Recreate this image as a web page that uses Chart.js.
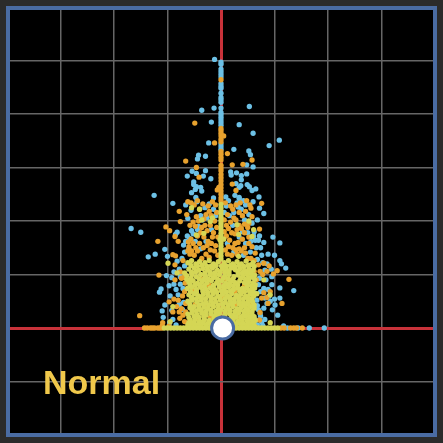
<!DOCTYPE html>
<html>
<head>
<meta charset="utf-8">
<script src="https://cdn.jsdelivr.net/npm/chart.js@4"></script>
<style>
  html, body { margin: 0; background: #2b2b2b; }
  #frame { position: absolute; left: 6px; top: 6px; width: 423px; height: 423px; border: 4px solid #4a6ca3; background: #000; overflow: hidden; }
  #chart { position: absolute; left: -3px; top: -3px; }
  #label { position: absolute; left: 33px; top: 352px; color: #f0c84b; font: bold 34px "Liberation Sans", Arial, sans-serif; line-height: 40px; }
</style>
</head>
<body>
<div id="frame"><canvas id="chart" width="428" height="428"></canvas><div id="label">Normal</div></div>
<script>
const xTicks = [-4, -3, -2, -1, 0, 1, 2, 3, 4];
const yTicks = [-2, -1, 0, 1, 2, 3, 4, 5, 6];
const centerPoint = [[.03, 0]];

// [x, y] pairs
const bluePoints = [
  [-.12,5.02],[-.36,4.07],[-.13,4.11],[.53,4.14],[-.18,3.85],[.34,3.80],[.60,3.64],[1.09,3.51],[.90,3.41],[-.23,3.46],
  [.24,3.34],[.52,3.31],[.55,3.24],[-.42,3.23],[-.44,3.16],[-.29,3.21],[.48,3.05],[.60,3.01],[-.54,2.93],[-.29,2.94],
  [-.46,2.89],[-.63,2.84],[-.33,2.84],[-.19,2.79],[.18,2.92],[.19,2.86],[.29,2.90],[.38,2.85],[.48,2.88],[.38,2.77],
  [.28,2.70],[.37,2.66],[.34,2.63],[.49,2.68],[.53,2.64],[.58,2.57],[.65,2.60],[.71,2.45],[-.51,2.73],[-.51,2.68],
  [-.46,2.64],[-.48,2.59],[-.55,2.53],[-.38,2.63],[-.36,2.56],[-.47,2.44],[-1.25,2.48],[.09,2.45],[.26,2.48],[.34,2.44],[-.14,2.43],
  [0,4.97],[0,4.93],[0,4.84],[0,4.79],[0,4.74],[0,4.69],[0,4.57],[0,4.52],[0,4.48],[0,4.39],[0,4.31],[0,4.27],[0,4.22],
  [0,4.11],[0,4.03],[0,3.99],[0,3.94],[0,3.89],[0,3.84],[0,3.79],[0,3.44],[0,3.39],[0,3.34],
  [-1.68,1.86],[-1.50,1.79],[-1.36,1.33],[-1.23,1.38],[-1.05,1.47],[-1.0,1.34],[-.90,2.33],[.97,1.70],[1.10,1.59],[.88,1.38],
  [1.0,1.36],[1.10,1.26],[1.13,1.20],[1.21,1.12],[.80,2.14],[.80,1.60],[.70,1.64],[.61,1.72],[-.82,1.79],[-.85,1.75],
  [1.36,.70],[1.10,.75],[.95,.81],[.95,.96],[-1.12,.73],[-1.15,.67],[-.97,.79],[-1.02,.98],[-.71,.74],[-.80,.62],
  [-1.05,.43],[-1.10,.32],[-1.08,.20],[1.0,.54],[1.10,.56],[1.01,.43],[.80,.37],[1.06,.24],[1.17,.04],[1.24,0],
  [1.44,0],[1.65,0],[1.93,0],[.67,.52],[.73,.27],[.65,.15],[.76,.11],[.70,.34],[.86,.46],[.64,.65],[.80,.74],[.70,.81],
  [.74,.22],[.82,.16],[.68,.06],[.78,.05],[.90,.60],[.88,.72],[.72,.93],[.84,.90],[-.92,.33],[-.90,.16],[-.78,.44],[-.95,.60],
  [-.88,.82],[-.76,.82],[-.72,.35],[-.84,.06],[-.96,.10],[-.73,1.30],[-.68,1.42],[-.60,1.48],[-.70,1.55],[-.63,1.72],
  [-.55,1.82],[-.48,1.62],[-.42,1.90],[-.35,2.02],[-.30,2.25],[-.22,2.32],[-.62,2.05],[-.56,2.20],[-.66,2.30],[-.45,2.36],
  [-.38,1.48],[-.28,1.62],[-.18,1.84],[-.10,2.10],[.10,2.28],[.16,2.10],[.22,1.92],[.30,2.34],[.38,2.22],[.46,2.30],
  [.52,2.12],[.60,2.36],[.44,2.02],[.58,1.96],[.34,1.70],[.46,1.58],[.55,1.42],[.66,1.50],[.42,1.36],[.24,1.42],[.12,1.58],
  [.62,1.80],[.68,1.28],[.76,1.36],[.86,1.20],[.82,1.08],[.94,1.10],[-.78,1.10],[-.88,1.05],[-.82,1.25],
  [-.66,1.62],[-.59,1.68],[-.52,1.76],[-.44,1.84],[-.38,2.10],[-.26,2.06],[-.14,2.22],[.06,2.16],[.14,2.38],[.24,2.16],
  [.32,2.26],[.40,1.80],[.50,1.78],[.56,1.62],[.64,1.64],[.72,1.72],[.68,2.02],[.72,2.24],[.34,2.42],[.42,2.38],
  [.74,1.50],[.78,1.22],[.92,.50],[.74,.68],[.68,.42],[.82,.56],[.96,.34],[-.70,.48],[-.84,.72],[-.76,.96],[-.68,1.16],[-.92,.94]
];
const orangePoints = [
  [-.49,3.83],[.05,3.59],[-.12,3.46],[.12,3.26],[-.66,3.12],[.58,3.14],[.21,3.05],[.41,3.06],[-.46,3.0],[-.41,2.82],
  [.21,2.69],[.28,2.57],[-.04,2.63],[-.07,2.58],
  [0,4.64],[0,3.73],[0,3.69],[0,3.64],[0,3.59],[0,3.53],[0,3.48],[0,3.30],[0,3.25],[0,3.19],[0,3.14],[0,3.04],[0,2.99],
  [0,2.94],[0,2.87],[0,2.81],[0,2.75],[0,2.68],[0,2.62],[0,2.56],[0,2.50],[0,2.43],[0,2.38],
  [-.78,2.18],[-.76,1.99],[-1.03,1.89],[-.96,1.82],[-.86,1.71],[-.80,1.62],[-1.18,1.62],[-1.52,.23],[-.61,1.61],[-.71,1.26],
  [-.90,1.37],[-.85,1.35],[-1.16,.99],[-.86,1.18],[-.74,.93],[-.70,.94],[-.86,.90],[-.97,.49],[-.88,.54],[-.80,.52],[-.74,.36],
  [-.71,.24],[-.90,.30],[-.77,.18],[-1.09,.10],[-.97,.04],[-1.10,.04],[-.83,.40],[-.78,.30],[-.68,.12],[-.72,.60],[-.76,1.05],
  [1.27,.91],[.72,1.85],[.76,2.33],[1.14,.46],[.88,.46],[.80,1.21],[.70,1.18],[.90,1.16],[.73,1.06],[.86,1.06],[1.05,1.07],
  [.98,1.01],[.80,.66],[.86,.57],[.76,.56],[.72,.15],[.73,.29],[.64,.02],[.66,.90],[.62,1.06],[.78,1.00],[.92,.68],
  [-.62,2.36],[-.56,2.34],[-.50,2.30],[-.44,2.38],[-.64,2.12],[-.58,1.92],[-.52,1.98],[-.46,2.08],[-.40,2.22],[-.34,2.32],
  [-.28,2.12],[-.22,2.18],[-.16,2.36],[-.12,2.00],[-.08,1.88],[-.30,1.92],[-.38,1.78],[-.32,1.70],[-.24,1.62],[-.16,1.70],
  [-.44,1.72],[-.52,1.58],[-.58,1.38],[-.62,1.44],[-.50,1.36],[-.44,1.44],[-.36,1.30],[-.28,1.38],[-.20,1.46],[-.10,1.54],
  [.08,2.34],[.14,1.86],[.10,1.72],[.16,1.64],[.22,2.22],[.18,1.98],[.28,2.02],[.34,1.92],[.26,1.76],[.32,1.60],
  [.40,1.66],[.44,1.50],[.38,1.44],[.30,1.38],[.22,1.50],[.12,1.38],[.50,1.88],[.48,2.38],[.56,2.24],[.58,2.08],
  [.52,1.70],[.58,1.52],[.50,1.30],[.62,1.26],[.40,2.10],[.54,2.30],[.08,1.46],
  [-.60,1.52],[-.55,1.44],[-.47,1.50],[-.40,1.58],[-.33,1.50],[-.26,1.54],[-.18,1.58],[-.12,1.44],[-.06,1.36],[-.22,1.32],
  [-.14,1.78],[-.06,1.70],[-.20,1.92],[-.26,1.82],[-.36,1.88],[-.48,1.90],[-.56,1.66],[-.42,2.00],[-.32,2.04],[-.18,2.10],
  [-.08,2.16],[-.24,2.28],[-.10,2.30],[.06,2.02],[.10,1.92],[.06,1.80],[.20,1.78],[.14,1.52],[.26,1.58],[.20,1.36],
  [.34,1.48],[.28,1.46],[.46,1.40],[.52,1.58],[.44,1.78],[.38,1.86],[.30,1.84],[.24,2.06],[.34,2.16],[.46,2.18],
  [.52,1.96],[.64,1.40],[.56,1.30],[.44,1.94],[.12,2.12],[.18,2.28],[.28,2.30],[.36,2.34],
  [-.20,.20],[.10,.36],[-.30,.44],[.32,.20],[.40,.68],[-.52,.72],[-.10,.70],[.06,.58],[-.36,.92],[.18,.90],[.46,.30],[.12,.16],
  [-.66,.30],[-.66,.46],[-.68,.68],[-.67,.84],[-.44,.18],[-.06,.32],[.26,.44],[.54,.46],[.44,.80],[-.22,.80],[-.48,.44],[.10,.92],[.26,.68],
  [-1.43,0],[-1.38,0],[-1.32,0],[-1.28,0],[-1.24,0],[-1.18,0],[-1.14,0],[-1.10,0],[1.12,0],[1.18,0],[1.30,0],[1.36,0],[1.41,0],[1.52,0]
];
const yellowPoints = [
  [0,2.31],[0,2.25],[0,2.19],[0,2.13],[0,2.07],[0,2.01],[0,1.95],[0,1.89],[0,1.83],[0,1.77],[0,1.71],[0,1.65],[0,1.59],[0,1.53],[0,1.47],[0,1.41],[0,1.35],[0,1.29],
  [-.46,1.74],[-.32,1.77],[-.36,2.02],[-.20,1.99],[-.16,2.06],[-.40,2.22],[-.55,2.25],[-.02,1.65],[.05,1.66],[.30,1.93],[.33,1.75],[.58,1.71],[.52,2.0],[.61,1.84],
  [.33,1.34],[-.99,1.21],[-.82,1.03],[-.68,1.03],[-.90,.40],[-.95,.12],[.80,.90],[.92,.62],[.67,.64],[.92,.10],
  [-.62,1.22],[-.55,1.26],[-.47,1.20],[-.40,1.24],[-.30,1.22],[-.22,1.26],[-.14,1.20],[-.05,1.24],[.06,1.22],[.14,1.26],[.22,1.20],[.30,1.24],[.38,1.20],[.47,1.25],[.55,1.18],[.60,1.22],
  [-.60,1.10],[-.50,1.12],[-.42,1.08],[-.34,1.11],[-.25,1.09],[-.16,1.12],[-.07,1.08],[.03,1.11],[.11,1.08],[.19,1.12],[.27,1.09],[.36,1.11],[.44,1.07],[.52,1.10],[.60,1.08],
  [-.64,.98],[-.54,1.0],[-.46,.96],[-.38,1.0],[-.29,.97],[-.20,1.0],[-.11,.96],[-.03,1.0],[.07,.97],[.15,1.0],[.24,.96],[.32,.99],[.41,.97],[.49,1.0],[.57,.96],[.63,.99],
  [-.60,.86],[-.52,.88],[-.44,.84],[-.35,.87],[-.26,.85],[-.18,.89],[-.08,.85],[.01,.88],[.09,.84],[.18,.87],[.27,.85],[.35,.88],[.44,.85],[.52,.87],[.60,.84],
  [-.63,.74],[-.55,.76],[-.46,.72],[-.38,.76],[-.29,.73],[-.20,.75],[-.12,.72],[-.03,.76],[.06,.73],[.14,.76],[.23,.72],[.31,.75],[.40,.74],[.48,.75],[.57,.72],[.63,.75],
  [-.60,.62],[-.50,.64],[-.42,.60],[-.33,.63],[-.24,.61],[-.15,.64],[-.06,.60],[.03,.63],[.12,.60],[.20,.64],[.29,.61],[.37,.63],[.46,.60],[.54,.63],[.61,.60],
  [-.62,.50],[-.54,.52],[-.45,.49],[-.37,.52],[-.28,.48],[-.19,.51],[-.10,.49],[-.01,.52],[.08,.48],[.17,.51],[.25,.49],[.34,.52],[.42,.48],[.51,.51],[.59,.49],
  [-.58,.38],[-.50,.40],[-.41,.36],[-.32,.39],[-.24,.37],[-.14,.40],[-.05,.36],[.04,.39],[.13,.37],[.22,.40],[.30,.36],[.38,.39],[.47,.37],[.55,.40],[.62,.37],
  [-.62,.26],[-.54,.28],[-.45,.25],[-.36,.28],[-.28,.24],[-.19,.27],[-.10,.25],[-.02,.28],[.07,.24],[.16,.27],[.25,.25],[.33,.28],[.42,.24],[.50,.27],[.58,.25],
  [-.58,.15],[-.49,.16],[-.40,.13],[-.31,.16],[-.22,.14],[-.13,.16],[-.04,.13],[.05,.16],[.14,.14],[.23,.16],[.32,.13],[.40,.16],[.49,.14],[.57,.16],[.64,.14],
  [-.62,.06],[-.54,.07],[-.46,.05],[-.37,.07],[-.28,.05],[-.19,.07],[.19,.07],[.28,.05],[.37,.07],[.46,.05],[.54,.07],[.62,.05],
  [-.56,1.17],[-.44,1.16],[-.35,1.17],[-.26,1.15],[-.18,1.16],[-.09,1.17],[.01,1.16],[.10,1.16],[.18,1.17],[.26,1.15],[.34,1.17],[.43,1.15],[.51,1.17],[.62,1.15],
  [-.55,1.04],[-.47,1.05],[-.30,1.03],[-.21,1.05],[-.12,1.03],[-.02,1.05],[.07,1.04],[.15,1.05],[.32,1.04],[.40,1.03],[.48,1.05],[.56,1.03],
  [-.64,.91],[-.56,.93],[-.41,.92],[-.32,.91],[-.24,.92],[-.15,.94],[-.06,.91],[.04,.93],[.13,.92],[.22,.91],[.37,.93],[.46,.91],[.53,.93],[.63,.91],
  [-.58,.81],[-.49,.80],[-.40,.80],[-.31,.79],[-.14,.80],[-.04,.81],[.05,.79],[.14,.81],[.23,.79],[.31,.81],[.49,.80],[.57,.79],[.64,.81],
  [-.57,.68],[-.46,.67],[-.34,.69],[-.25,.67],[-.16,.69],[-.08,.67],[.01,.69],[.10,.67],[.18,.69],[.35,.69],[.44,.68],[.53,.69],[.60,.67],
  [-.55,.57],[-.46,.55],[-.37,.57],[-.29,.55],[-.19,.57],[-.11,.55],[-.02,.57],[.08,.55],[.16,.57],[.25,.55],[.33,.57],[.42,.55],[.50,.57],[.58,.55],
  [-.58,.44],[-.41,.43],[-.33,.45],[-.23,.43],[-.15,.45],[-.05,.43],[.03,.45],[.13,.43],[.21,.45],[.34,.45],[.42,.43],[.50,.45],[.62,.43],
  [-.54,.33],[-.46,.32],[-.37,.33],[-.28,.31],[-.19,.33],[-.10,.31],[-.01,.33],[.08,.31],[.17,.33],[.26,.31],[.35,.33],[.43,.31],[.51,.33],[.58,.31],
  [-.60,.20],[-.50,.22],[-.41,.20],[-.32,.22],[-.13,.21],[-.04,.20],[.06,.21],[.19,.20],[.28,.21],[.37,.20],[.46,.22],[.54,.20],[.62,.21],
  [-.60,.10],[-.50,.11],[-.41,.09],[-.33,.10],[-.24,.09],[-.15,.10],[.15,.10],[.24,.09],[.33,.10],[.41,.09],[.50,.11],[.60,.10],
  [-1.06,0],[-1.0,0],[-.94,0],[-.88,0],[-.82,0],[-.76,0],[-.70,0],[-.64,0],[-.58,0],[-.52,0],[-.46,0],[-.40,0],[-.34,0],[-.28,0],[-.22,0],[-.16,0],[-.10,0],
  [.10,0],[.16,0],[.22,0],[.28,0],[.34,0],[.40,0],[.46,0],[.52,0],[.58,0],[.64,0],[.70,0],[.76,0],[.82,0],[.88,0],[.94,0],[1.0,0],[1.06,0]
];

const toXY = list => list.map(p => ({ x: p[0], y: p[1] }));

new Chart(document.getElementById("chart").getContext("2d"), {
  type: "scatter",
  data: {
    datasets: [
      { data: toXY(centerPoint), order: 0, pointRadius: 11, pointBackgroundColor: "#ffffff", pointBorderColor: "#4a6ca3", pointBorderWidth: 3 },
      { data: toXY(yellowPoints), order: 1, pointRadius: 2.65, pointBackgroundColor: "#d4d655", pointBorderWidth: 0 },
      { data: toXY(orangePoints), order: 2, pointRadius: 2.65, pointBackgroundColor: "#e8a22e", pointBorderWidth: 0 },
      { data: toXY(bluePoints), order: 3, pointRadius: 2.65, pointBackgroundColor: "#6cc0e5", pointBorderWidth: 0 }
    ]
  },
  options: {
    responsive: false,
    animation: false,
    layout: { padding: 0, autoPadding: false },
    plugins: { legend: { display: false }, tooltip: { enabled: false } },
    scales: {
      x: {
        type: "linear", min: -4, max: 4,
        afterBuildTicks: axis => { axis.ticks = xTicks.map(v => ({ value: v })); },
        ticks: { display: false },
        border: { display: false },
        grid: { drawTicks: false, color: c => c.tick.value === 0 ? "#c8323a" : "#666666", lineWidth: c => c.tick.value === 0 ? 3 : 1.5 }
      },
      y: {
        type: "linear", min: -2, max: 6,
        afterBuildTicks: axis => { axis.ticks = yTicks.map(v => ({ value: v })); },
        ticks: { display: false },
        border: { display: false },
        grid: { drawTicks: false, color: c => c.tick.value === 0 ? "#c8323a" : "#666666", lineWidth: c => c.tick.value === 0 ? 3 : 1.5 }
      }
    }
  }
});
</script>
</body>
</html>
